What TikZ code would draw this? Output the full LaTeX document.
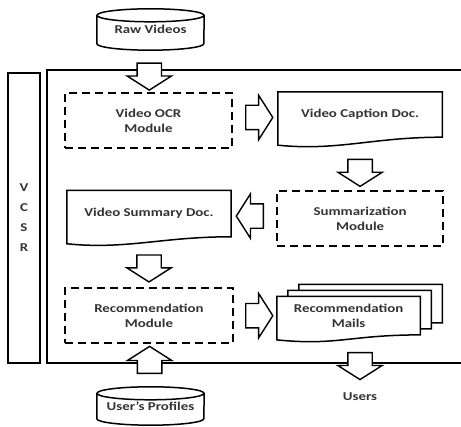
\documentclass[tikz,border=0pt]{standalone}
\usepackage{fontspec}
\setmainfont{Carlito}[FakeStretch=1.24]
\usetikzlibrary{shapes.arrows,positioning,calc,backgrounds}

% outline of a document node (wavy bottom edge)
\newcommand\docshape[2][7pt]{%
  \draw[docline] (#2.north west) -- (#2.north east) -- (#2.south east)
    .. controls +(-70pt,0pt) and +(60pt,-6pt) .. ([yshift=-#1]#2.south west) -- cycle;}
% outline of a database node
\newcommand\dbshape[1]{%
  \draw[docline] (#1.north west) -- (#1.south west)
    arc[start angle=180, end angle=360, x radius=53.5pt, y radius=6.5pt]
    -- (#1.north east) (#1.north) ellipse [x radius=53.5pt, y radius=6.5pt];}

\begin{document}
\begin{tikzpicture}[x=1pt, y=1pt,
    every node/.style={font=\bfseries\fontsize{12}{15}\selectfont, text=black!80}]
    \tikzset{
        module/.style = {rectangle, draw, dash pattern=on 8pt off 5pt, line width=1.8pt, minimum width=167pt, minimum height=55pt, align=center},
        docnode/.style = {rectangle, minimum width=164pt, minimum height=45pt, align=center},
        docline/.style = {draw, fill=white, line width=1.5pt},
        dbnode/.style = {rectangle, minimum width=107pt, align=center},
        barrow/.style = {single arrow, draw, fill=white, line width=1.4pt, minimum height=27pt, inner xsep=0pt, inner ysep=11.5pt, single arrow head extend=10pt, single arrow tip angle=115},
    }
    \useasboundingbox (0,0) rectangle (461,427);

    \node[dbnode, minimum height=28pt](raw) at (150.5,397.5){Raw Videos};

    \node[module](ocr) at (148.5,306.5){Video OCR\\Module};

    \node[docnode](caption)[right=45pt of ocr, yshift=6pt]{Video Caption Doc.};

    \node[module, minimum width=166pt](summ)[below=53pt of caption]{Summarization\\Module};

    \node[docnode, minimum height=46pt](summary)[left=45pt of summ, yshift=5pt]{Video Summary Doc.};

    \node[module, minimum width=168pt](rec)[below=50.5pt of summary]{Recommendation\\Module};

    \node[docnode, minimum width=143pt, minimum height=38pt](mails)[right=43pt of rec]{Recommendation\\Mails};
    \node[docnode, minimum width=143pt, minimum height=38pt](mailsb) at ([shift={(11pt,6pt)}]mails){};
    \node[docnode, minimum width=143pt, minimum height=38pt](mailsc) at ([shift={(22pt,12pt)}]mails){};

    \node(users) at (360,30){Users};

    \node[dbnode, minimum height=25pt](prof) at (150.5,21){User's Profiles};

    \node[draw, line width=1.5pt, minimum width=32pt, minimum height=290pt, align=center,
        font=\bfseries\fontsize{12}{20}\selectfont](vcsr) at (24,209){V\\C\\S\\R};

    \begin{scope}[on background layer]
        \dbshape{raw}
        \dbshape{prof}
        \docshape[8pt]{caption}
        \docshape{summary}
        \docshape[5pt]{mailsc}
        \docshape[5pt]{mailsb}
        \docshape[5pt]{mails}
    \end{scope}

    \draw[line width=1.6pt] (470,357) -- (47,357) -- (47,64) -- (470,64);

    \node[barrow, rotate=-90](a1) at ($(raw.south)!.6!(ocr.north)$){};
    \node[barrow](a2) at ($(ocr.east)!.5!(caption.west)$){};
    \node[barrow, rotate=-90](a3) at ($(caption.south)!.6!(summ.north)$){};
    \node[barrow, rotate=180](a4) at ($(summ.west)!.5!(summary.east)$){};
    \node[barrow, rotate=-90](a5) at ($(summary.south)!.55!(rec.north)$){};
    \node[barrow](a6) at ($(rec.east)!.5!(mails.west)$){};
    \node[barrow, rotate=-90](a7) at ($(mails.south -| users.north)!.5!(users.north)$){};
    \node[barrow, rotate=90](a8) at ($(prof.north)!.6!(rec.south)$){};

\end{tikzpicture}
\end{document}
